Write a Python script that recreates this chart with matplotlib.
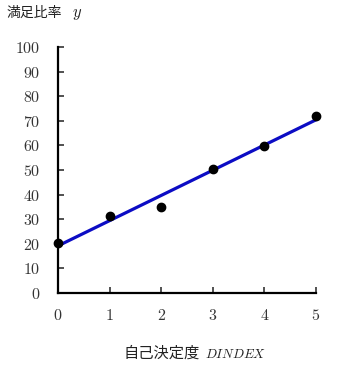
import numpy as np
import matplotlib
matplotlib.use('Agg')
import matplotlib.pyplot as plt

plt.rcParams['mathtext.fontset'] = 'cm'

# data
dindex = [0, 1, 2, 3, 4, 5]
ratio = [20.3, 31.5, 34.8, 50.3, 59.9, 71.9]
x_ticks = [0, 1, 2, 3, 4, 5]
y_ticks = [0, 10, 20, 30, 40, 50, 60, 70, 80, 90, 100]

W, H = 343, 369
fig = plt.figure(figsize=(W / 100, H / 100), dpi=100)
ax = fig.add_axes([58 / W, 1 - 293 / H, (316 - 58) / W, (293 - 47) / H])

# least squares line
b, a = np.polyfit(dindex, ratio, 1)
xs = np.array([dindex[0], dindex[-1]])
ax.plot(xs, a + b * xs, color='#0c0cc4', lw=2.3, zorder=2, clip_on=False)
ax.plot(dindex, ratio, 'o', color='black', ms=6, zorder=3, clip_on=False)

ax.set_xlim(0, 5)
ax.set_ylim(0, 100)
ax.set_xticks(x_ticks, labels=[f'${t}$' for t in x_ticks])
ax.set_yticks(y_ticks, labels=[f'${t}$' for t in y_ticks])
ax.tick_params(direction='in', length=4, width=1.2, labelsize=11.5, colors='#333333')
ax.tick_params(axis='y', pad=13)
ax.tick_params(axis='x', pad=11)
for s in ['top', 'right']:
    ax.spines[s].set_visible(False)
for s in ['left', 'bottom']:
    ax.spines[s].set_linewidth(1.6)

cjk = 'Noto Sans CJK JP'
fig.text(7 / W, 1 - 17 / H, '満足比率', family=cjk, fontsize=10, va='baseline', color='#222222')
fig.text(72 / W, 1 - 17 / H, '$y$', fontsize=12, va='baseline', color='#222222')
fig.text(124 / W, 1 - 358 / H, '自己決定度', family=cjk, fontsize=11, va='baseline', color='#222222')
fig.text(205 / W, 1 - 358 / H, '$DINDEX$', fontsize=9.5, va='baseline', color='#222222')

plt.savefig('out.png', dpi=100)
